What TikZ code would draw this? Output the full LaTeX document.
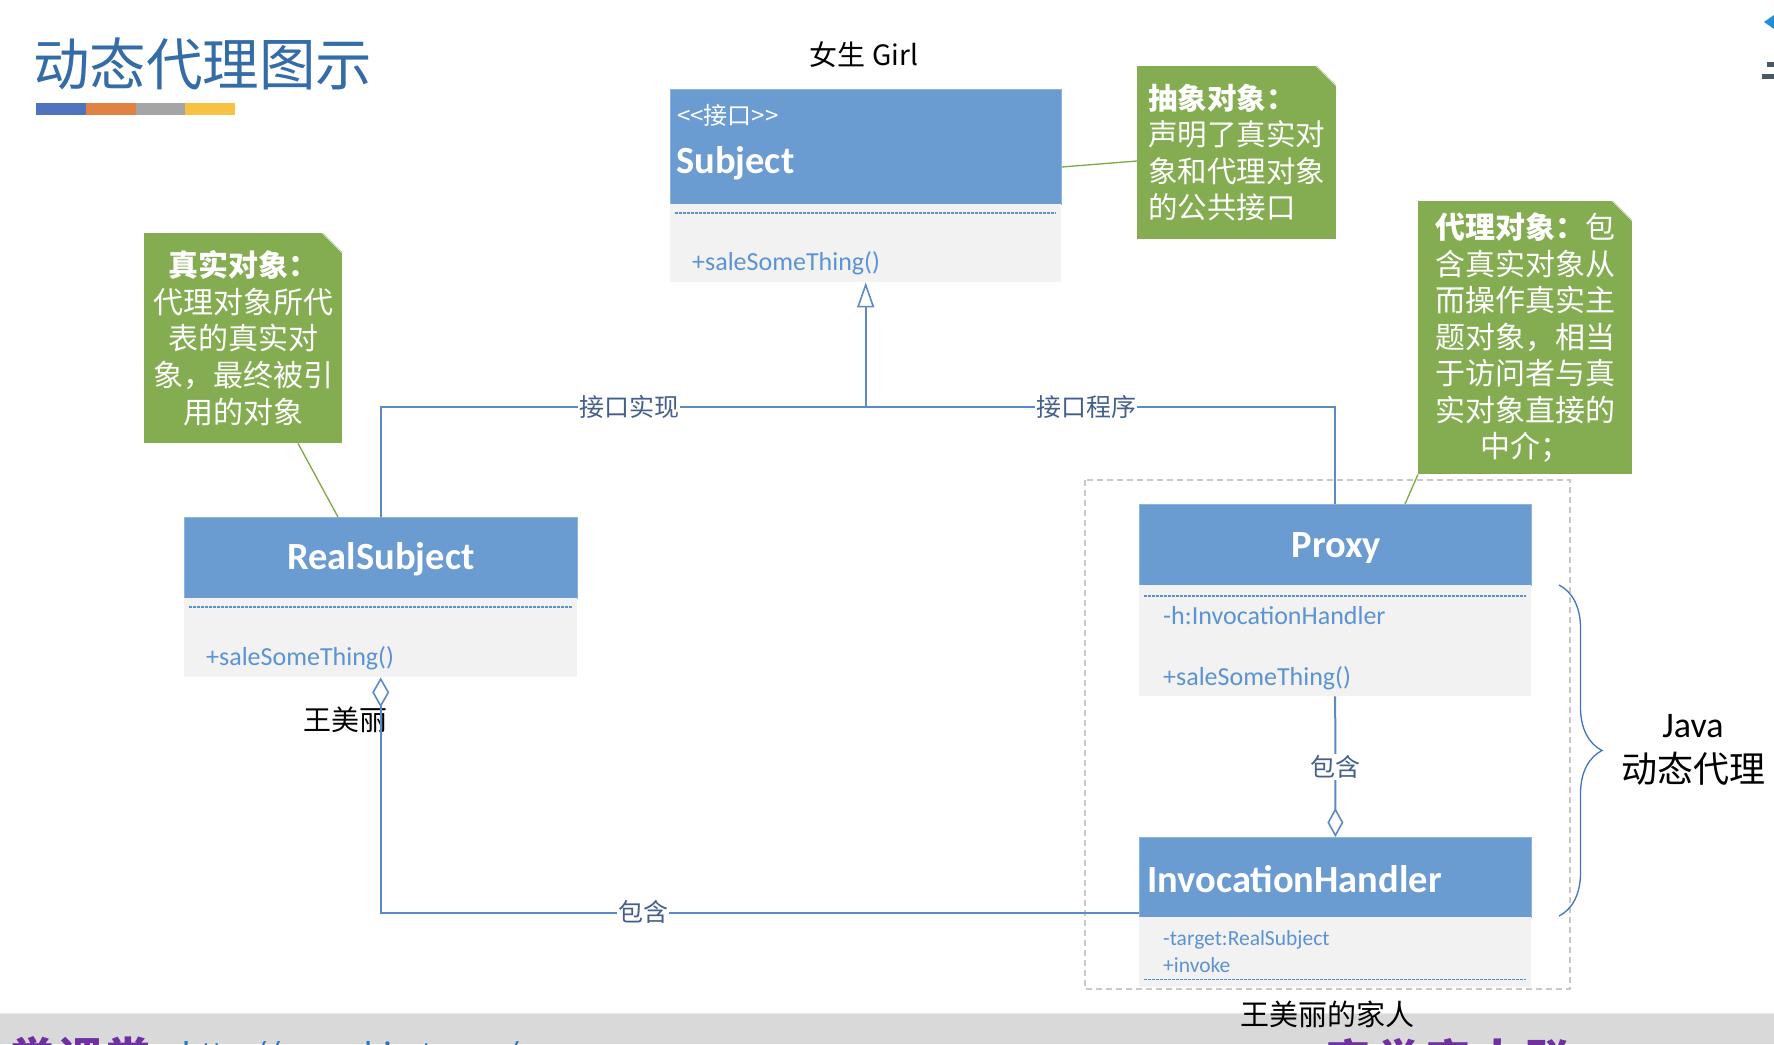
\documentclass[tikz,border=0pt]{standalone}
\usepackage{fontspec}
\setmainfont{Carlito}
\newfontfamily\cjk{Noto Sans CJK SC}
\usetikzlibrary{arrows.meta,calc,decorations.pathreplacing}
\definecolor{hdrblue}{HTML}{6A9BD1}
\definecolor{hdrline}{HTML}{8DB3E2}
\definecolor{bodygray}{HTML}{F2F2F2}
\definecolor{membertext}{HTML}{5B93D3}
\definecolor{dashblue}{HTML}{5B8FD0}
\definecolor{connblue}{HTML}{5B8AC6}
\definecolor{lbltext}{HTML}{44608A}
\definecolor{notegreen}{HTML}{84AC51}
\definecolor{greenline}{HTML}{7DA844}
\definecolor{titleblue}{HTML}{336CA6}
\definecolor{barblue}{HTML}{4F73BE}
\definecolor{barorange}{HTML}{E08244}
\definecolor{bargray}{HTML}{A5A5A5}
\definecolor{baryellow}{HTML}{F7C143}
\definecolor{groupgray}{HTML}{C8C8C8}
\definecolor{bracecol}{HTML}{4472C4}
\definecolor{footgray}{HTML}{D9D9D9}
\definecolor{footpurple}{HTML}{7030A0}
\definecolor{footblue}{HTML}{2E75B6}
\definecolor{logoblue}{HTML}{1E90D8}
\definecolor{logogray}{HTML}{4A5866}
\begin{document}
\begin{tikzpicture}[x=1pt,y=-1pt,
  hdr/.style={fill=hdrblue, draw=hdrline, line width=0.8pt, inner sep=0pt, anchor=north west, text=white},
  bodyb/.style={fill=bodygray, draw=none, inner sep=0pt, anchor=north west},
  htitle/.style={inner sep=0pt, text=white, font=\bfseries\fontsize{38.5}{42}\selectfont},
  member/.style={inner sep=0pt, anchor=west, text=membertext, font=\fontsize{26}{28}\selectfont},
  smallmember/.style={inner sep=0pt, anchor=west, text=membertext, font=\fontsize{21.5}{23}\selectfont},
  dline/.style={draw=dashblue, line width=1.1pt, dash pattern=on 2.5pt off 1.5pt},
  note/.style={fill=notegreen, text=white, inner sep=0pt, anchor=north west},
  foldline/.style={draw=white!85!notegreen, line width=0.8pt},
  gconn/.style={draw=greenline, line width=1.3pt},
  conn/.style={draw=connblue, line width=2pt},
  lbl/.style={fill=white, text=lbltext, inner sep=1pt, font=\cjk\fontsize{25}{25}\selectfont},
  plain/.style={inner sep=0pt, text=black},
]
\useasboundingbox (0,0) rectangle (1774,1044);

% title and colour bar
\node[inner sep=0pt, anchor=west, text=titleblue, font=\cjk\fontsize{56.5}{56.5}\selectfont] (title) at (33,64) {动态代理图示};
\fill[barblue] (36,103) rectangle (86,115);
\fill[barorange] (86,103) rectangle (136,115);
\fill[bargray] (136,103) rectangle (185,115);
\fill[baryellow] (185,103) rectangle (235,115);

% top-right logo fragment
\fill[logoblue] (1764,22) -- (1774,15) -- (1774,29) -- cycle;
\fill[logogray] (1767,62) rectangle (1774,67);
\fill[logogray] (1762,74) rectangle (1774,79);

% group box
\draw[groupgray, line width=1.3pt, dash pattern=on 6pt off 4pt] (1085,480) rectangle (1570,989);

% Subject
\node[plain, font=\cjk\fontsize{28}{28}\selectfont] (girl) at (864,55) {女生 Girl};
\node[hdr, minimum width=391, minimum height=115] (sH) at (670,89) {};
\node[bodyb, minimum width=391, minimum height=78] (sB) at (670,204) {};
\node[inner sep=0pt, anchor=west, text=white, font=\cjk\fontsize{24}{24}\selectfont] (sStereo) at (677,115) {<<接口>>};
\node[htitle, anchor=west] (sName) at (676,163) {Subject};
\draw[dline] ($(sB.north west)+(5,9)$) -- ($(sB.north east)+(-5,9)$);
\node[member] (sM) at (692,263) {+saleSomeThing()};

% RealSubject
\node[hdr, minimum width=393, minimum height=81] (rsH) at (184,517) {};
\node[htitle] (rsName) at ($(rsH.center)+(0,1)$) {RealSubject};
\node[bodyb, minimum width=393, minimum height=79] (rsB) at (184,598) {};
\draw[dline] ($(rsB.north west)+(5,9)$) -- ($(rsB.north east)+(-5,9)$);
\node[member] (rsM) at (206,658) {+saleSomeThing()};
\node[plain, font=\cjk\fontsize{28}{28}\selectfont] (wml) at (345,720) {王美丽};

% Proxy
\node[hdr, minimum width=392, minimum height=81] (pH) at (1139,504) {};
\node[htitle] (pName) at ($(pH.center)+(1,3)$) {Proxy};
\node[bodyb, minimum width=392, minimum height=111] (pB) at (1139,585) {};
\draw[dline] ($(pB.north west)+(5,11)$) -- ($(pB.north east)+(-5,11)$);
\node[member] (pM1) at (1163,616) {-h:InvocationHandler};
\node[member] (pM2) at (1163,678) {+saleSomeThing()};

% InvocationHandler
\node[hdr, minimum width=392, minimum height=80] (ihH) at (1139,837) {};
\node[htitle, anchor=west] (ihName) at (1147,879) {InvocationHandler};
\node[bodyb, minimum width=392, minimum height=70] (ihB) at (1139,917) {};
\node[smallmember] (ihM1) at (1163,940) {-target:RealSubject};
\node[smallmember] (ihM2) at (1163,965) {+invoke};
\draw[dline] ($(ihB.south west)+(5,-8)$) -- ($(ihB.south east)+(-5,-8)$);

% notes
\node[note, minimum width=198, minimum height=210, align=center, font=\cjk\fontsize{30}{36.8}\selectfont] (rn) at (144,233)
  {{\bfseries 真实对象：}\\代理对象所代\\表的真实对\\象，最终被引\\用的对象};
\node[note, minimum width=199, minimum height=173, align=left, font=\cjk\fontsize{29.5}{36.5}\selectfont] (an) at (1137,66)
  {{\bfseries 抽象对象：}\\声明了真实对\\象和代理对象\\的公共接口};
\node[note, minimum width=214, minimum height=273, align=center, font=\cjk\fontsize{30}{36.5}\selectfont] (pn) at (1418,201)
  {{\bfseries 代理对象：}包\\含真实对象从\\而操作真实主\\题对象，相当\\于访问者与真\\实对象直接的\\中介；};
\foreach \n in {rn,an,pn}{
  \fill[white] ($(\n.north east)+(-20,-1)$) -- ($(\n.north east)+(1,-1)$) -- ($(\n.north east)+(1,20)$) -- cycle;
  \draw[foldline] ($(\n.north east)+(-20,0)$) -- ($(\n.north east)+(0,20)$);
}

% note connectors
\draw[gconn] ($(sH.north east)+(0,78)$) -- ($(an.north west)+(0,95)$);
\draw[gconn] ($(rn.south west)+(154,0)$) -- ($(rsH.north west)+(154,0)$);
\draw[gconn] (pn.south west) -- ($(pH.north west)+(266,0)$);

% UML connectors
\coordinate (jn) at ($(sB.south)+(0,125)$);
\draw[conn] (rsH.north) |- (jn) -| (pH.north);
\draw[conn, -{Triangle[open, length=25pt, width=17pt, line width=1.6pt]}] (jn) -- (sB.south);
\node[lbl] (l1) at (629,407) {接口实现};
\node[lbl] (l2) at (1086,407) {接口程序};
\draw[conn, {Diamond[open, length=30pt, width=17pt, line width=1.6pt]}-] (rsB.south) |- ($(ihH.south west)+(0,-5)$);
\node[lbl] (l3) at (643,912) {包含};
\draw[conn, -{Diamond[open, length=29pt, width=16pt, line width=1.6pt]}] (pB.south) -- (ihH.north);
\node[lbl] (l4) at (1335,767) {包含};

% brace and Java label
\draw[bracecol, line width=1.3pt, decorate, decoration={brace, amplitude=43pt, aspect=0.5}] (1559,585) -- (1559,916);
\node[plain, align=center, font=\fontsize{36}{45}\selectfont] (java) at (1693,750) {Java\\{\cjk 动态代理}};

% footer strip
\fill[footgray] (0,1013) rectangle (1774,1044);
\draw[white!92!black, line width=1pt] (0,1013) -- (1774,1013);
\node[plain, font=\cjk\fontsize{29}{29}\selectfont] (fam) at (1327,1014) {王美丽的家人};
\begin{scope}
\clip (0,1013) rectangle (1774,1044);
\node[inner sep=0pt, anchor=base west, text=footpurple, font=\cjk\bfseries\fontsize{44}{44}\selectfont] (f1) at (10,1074) {学\hspace{4pt}课\hspace{4pt}堂};
\node[inner sep=0pt, anchor=base west, text=footblue, font=\fontsize{36}{36}\selectfont] (f2) at (182,1066) {http://www.bjsxt.com/};
\node[inner sep=0pt, anchor=base west, text=footpurple, font=\cjk\bfseries\fontsize{44}{44}\selectfont] (f3) at (1326,1076) {高\hspace{6pt}学\hspace{6pt}高\hspace{6pt}人\hspace{6pt}联};
\end{scope}
\end{tikzpicture}
\end{document}
